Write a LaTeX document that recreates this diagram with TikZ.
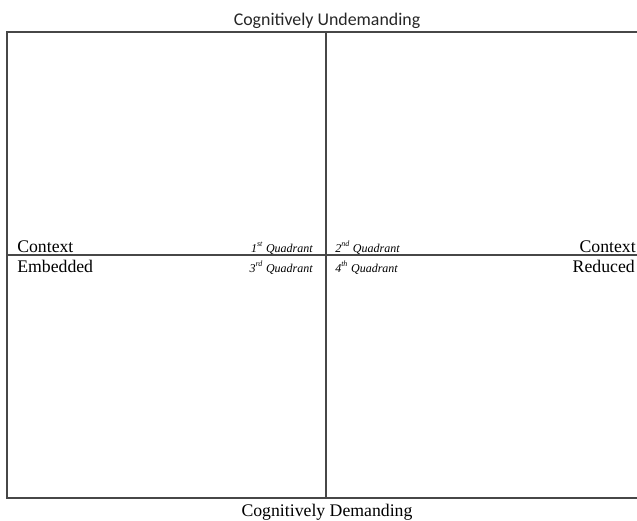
\documentclass[tikz,border=0pt]{standalone}
\usepackage{fontspec}
\setmainfont{Liberation Serif}
\newfontfamily\headfont{Carlito}
\usetikzlibrary{positioning}

\begin{document}
\begin{tikzpicture}[
  x=0.75pt, y=-0.75pt,
  frame/.style={draw=black!72, line width=1pt},
  axis/.style={font=\fontsize{13.3}{15}\selectfont, inner sep=0pt},
  heading/.style={font=\headfont\fontsize{13.4}{15}\selectfont, text=black!85, inner sep=0pt},
  quad/.style={font=\fontsize{9}{11}\selectfont\itshape, inner sep=0pt}
]
  \useasboundingbox (0,0) rectangle (637,521);

  % outer frame, open on the right
  \draw[frame] (637,32) -- (7,32) -- (7,498) -- (637,498);
  % the two axes
  \draw[frame] (326,32) -- (326,498);
  \draw[frame] (7,255) -- (637,255);

  % axis labels
  \node[heading, anchor=base] (undem) at (327,26) {Cognitively Undemanding};
  \node[axis, anchor=base] (dem) at (327,516) {Cognitively Demanding};
  \node[axis, anchor=base west] (ctxl) at (17,252) {Context};
  \node[axis, anchor=base west] (embed) at (17,272) {Embedded};
  \node[axis, anchor=base east] (ctxr) at (636,252) {Context};
  \node[axis, anchor=base east] (reduce) at (635,272) {Reduced};

  % quadrant tags
  \node[quad, anchor=base east] (q1) at (313,252) {1\textsuperscript{st} Quadrant};
  \node[quad, anchor=base west] (q2) at (335,252) {2\textsuperscript{nd} Quadrant};
  \node[quad, anchor=base east] (q3) at (313,272) {3\textsuperscript{rd} Quadrant};
  \node[quad, anchor=base west] (q4) at (335,272) {4\textsuperscript{th} Quadrant};
\end{tikzpicture}
\end{document}
